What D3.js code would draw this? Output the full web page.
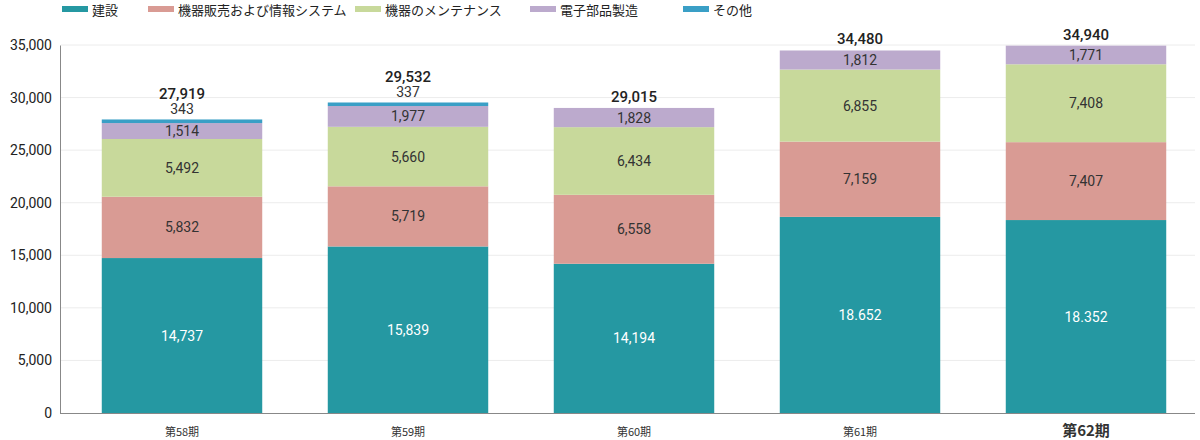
<!DOCTYPE html><html><head><meta charset="utf-8"><script src="https://cdn.jsdelivr.net/npm/d3@7"></script>
<style>body{margin:0;background:#fff;font-family:"Noto Sans CJK JP","Noto Sans",sans-serif}</style></head><body><svg id="c" width="1200" height="440"></svg><script>
const categories=["第58期","第59期","第60期","第61期","第62期"];
const seriesNames=["建設","機器販売および情報システム","機器のメンテナンス","電子部品製造","その他"];
const construction=[14737,15839,14194,18652,18352];
const sales=[5832,5719,6558,7159,7407];
const maintenance=[5492,5660,6434,6855,7408];
const electronics=[1514,1977,1828,1812,1771];
const other=[343,337,0,0,0];
const totals=["27,919","29,532","29,015","34,480","34,940"];
const constructionLabels=["14,737","15,839","14,194","18.652","18.352"];
const yTicks=[0,5000,10000,15000,20000,25000,30000,35000];
const colors=["#2598a2","#d99b94","#c8d99b","#bcaacd","#3a9fc6"];
const series=[construction,sales,maintenance,electronics,other];
const svg=d3.select("#c");
const y=d3.scaleLinear().domain([0,35000]).range([413,45]);
const x=d3.scaleBand().domain(categories).range([69,1199]).paddingInner(0.29).paddingOuter(0.145);
svg.append("g").selectAll("line").data(yTicks.slice(1)).join("line").attr("x1",61).attr("x2",1195).attr("y1",d=>y(d)).attr("y2",d=>y(d)).attr("stroke","#ececec");
const ya=svg.append("g").attr("transform","translate(60,0)").call(d3.axisLeft(y).tickValues(yTicks).tickFormat(d3.format(",")).tickSize(0).tickPadding(8));
ya.select(".domain").attr("stroke","#888");ya.selectAll("text").attr("font-size",14).attr("fill","#222").attr("font-family","Roboto,sans-serif");
svg.append("line").attr("x1",60).attr("x2",1195).attr("y1",413.5).attr("y2",413.5).attr("stroke","#888");
categories.forEach((c,i)=>{let base=0;
 series.forEach((s,k)=>{const v=s[i];if(!v)return;const y0=y(base),y1=y(base+v);
  svg.append("rect").attr("x",x(c)).attr("width",x.bandwidth()).attr("y",y1).attr("height",y0-y1).attr("fill",colors[k]);
  const lab=k==0?constructionLabels[i]:d3.format(",")(v);
  if(k<4) svg.append("text").attr("x",x(c)+x.bandwidth()/2).attr("y",(y0+y1)/2+5).attr("text-anchor","middle").attr("font-size",14).attr("font-family","Roboto,sans-serif").attr("fill",k==0?"#fff":"#333").text(lab);
  else svg.append("text").attr("x",x(c)+x.bandwidth()/2).attr("y",y1-5).attr("text-anchor","middle").attr("font-size",14).attr("font-family","Roboto,sans-serif").attr("fill","#333").text(lab);
  base+=v;});
 svg.append("text").attr("x",x(c)+x.bandwidth()/2).attr("y",y(base)-(other[i]?20:6)).attr("text-anchor","middle").attr("font-size",15).attr("font-weight",500).attr("font-family","Roboto,sans-serif").attr("fill","#222").text(totals[i]);
 svg.append("text").attr("x",x(c)+x.bandwidth()/2).attr("y",i==4?436:436).attr("text-anchor","middle").attr("font-size",i==4?15:11).attr("font-weight",i==4?"bold":"normal").attr("fill","#333").text(c);
});
const lx=[62,148,355,530,683];
seriesNames.forEach((n,k)=>{svg.append("rect").attr("x",lx[k]).attr("y",6).attr("width",26).attr("height",6).attr("fill",colors[k]);
 svg.append("text").attr("x",lx[k]+30).attr("y",15).attr("font-size",13).attr("fill","#222").text(n);});
</script></body></html>
